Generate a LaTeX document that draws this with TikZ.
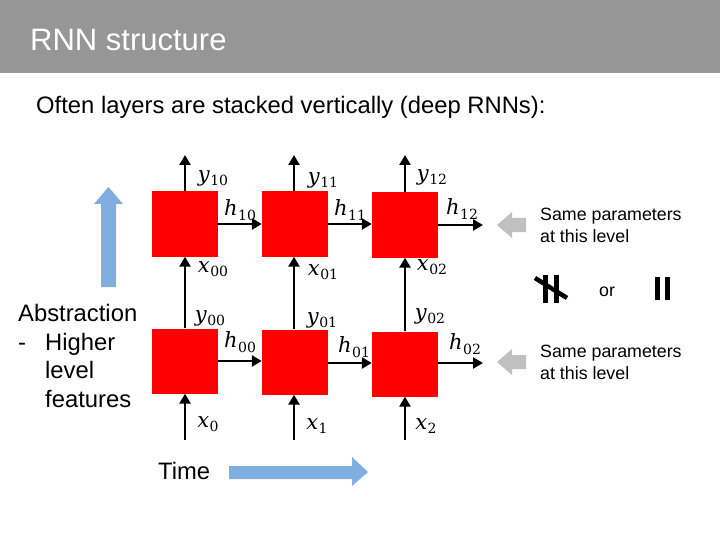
\documentclass[tikz,border=0pt]{standalone}
\usepackage{fontspec}
\setmainfont{Liberation Sans}
\newfontfamily\lblfont{DejaVu Serif}
\usetikzlibrary{arrows.meta}
\definecolor{hdr}{RGB}{150,150,150}
\definecolor{cellred}{RGB}{255,0,0}
\definecolor{bluearr}{RGB}{128,174,224}
\definecolor{grayarr}{RGB}{192,192,192}
\newcommand{\mlab}[2]{{\lblfont\fontsize{21}{22}\selectfont\itshape #1}\kern0.5pt\raisebox{-4.5pt}{\lblfont\fontsize{14}{15}\selectfont #2}}
\begin{document}
\begin{tikzpicture}[x=1pt,y=-1pt,
  cell/.style={fill=cellred,draw=none,minimum width=66pt,minimum height=65pt,inner sep=0pt},
  conn/.style={line width=2.6pt,-{Triangle[length=10pt,width=11pt]}},
  lbl/.style={inner sep=0pt},
  txt/.style={inner sep=0pt,anchor=base west}]
\useasboundingbox (0,0) rectangle (720,540);
% header
\fill[hdr] (0,0) rectangle (720,73);
\node[txt,text=white,font=\fontsize{31}{36}\selectfont] (title) at (30,51) {RNN structure};
\node[txt,font=\fontsize{23.8}{28}\selectfont] (sub) at (36,114) {Often layers are stacked vertically (deep RNNs):};
% cells
\node[cell] (b10) at (185,224) {};
\node[cell] (b11) at (295,224) {};
\node[cell] (b12) at (405,225) {};
\node[cell] (b00) at (185,361) {};
\node[cell] (b01) at (295,362) {};
\node[cell] (b02) at (405,364) {};
% free ends
\coordinate (t0) at (185,155);
\coordinate (t1) at (294,155);
\coordinate (t2) at (405,155);
\coordinate (i0) at (185,440);
\coordinate (i1) at (294,440);
\coordinate (i2) at (405,440);
\coordinate (e1) at (483,225);
\coordinate (e0) at (483,363);
% vertical connectors
\draw[conn] (b10.north) -- (t0);
\draw[conn] (b11.north -| t1) -- (t1);
\draw[conn] (b12.north) -- (t2);
\draw[conn] (b00.north) -- (b10.south);
\draw[conn] (b01.north -| t1) -- (b11.south -| t1);
\draw[conn] (b02.north) -- (b12.south);
\draw[conn] (i0) -- (b00.south);
\draw[conn] (i1) -- (b01.south -| i1);
\draw[conn] (i2) -- (b02.south);
% horizontal connectors
\draw[conn] (b10.east) -- (b11.west);
\draw[conn] (b11.east) -- (b12.west |- b11.east);
\draw[conn] (b12.east |- e1) -- (e1);
\draw[conn] (b00.east |- 0,361) -- (b01.west |- 0,361);
\draw[conn] (b01.east |- 0,363) -- (b02.west |- 0,363);
\draw[conn] (b02.east |- e0) -- (e0);
% labels
\node[lbl] (ly10) at (213,178) {\mlab{y}{10}};
\node[lbl] (ly11) at (323,180) {\mlab{y}{11}};
\node[lbl] (ly12) at (432,177) {\mlab{y}{12}};
\node[lbl] (lh10) at (240,210) {\mlab{h}{10}};
\node[lbl] (lh11) at (350,210) {\mlab{h}{11}};
\node[lbl] (lh12) at (462,209) {\mlab{h}{12}};
\node[lbl] (lx00) at (213,269) {\mlab{x}{00}};
\node[lbl] (lx01) at (323,272) {\mlab{x}{01}};
\node[lbl] (lx02) at (432,267) {\mlab{x}{02}};
\node[lbl] (ly00) at (210,318) {\mlab{y}{00}};
\node[lbl] (ly01) at (322,320) {\mlab{y}{01}};
\node[lbl] (ly02) at (430,316) {\mlab{y}{02}};
\node[lbl] (lh00) at (240,342) {\mlab{h}{00}};
\node[lbl] (lh01) at (354,347) {\mlab{h}{01}};
\node[lbl] (lh02) at (465,344) {\mlab{h}{02}};
\node[lbl] (lx0) at (208,424) {\mlab{x}{0}};
\node[lbl] (lx1) at (317,426) {\mlab{x}{1}};
\node[lbl] (lx2) at (426,426) {\mlab{x}{2}};
% gray arrows
\fill[grayarr] (497,225) -- (512,212) -- (512,218) -- (526,218) -- (526,232) -- (512,232) -- (512,238) -- cycle;
\fill[grayarr] (497,362) -- (512,349) -- (512,355) -- (526,355) -- (526,369) -- (512,369) -- (512,375) -- cycle;
\node[txt,align=left,font=\fontsize{17.8}{22}\selectfont] (sp1) at (540,243) {Same parameters\\at this level};
\node[txt,align=left,font=\fontsize{17.8}{22}\selectfont] (sp0) at (540,379) {Same parameters\\at this level};
% not-equal and equal symbols
\fill (543,275) rectangle (548,303);
\fill (554,275) rectangle (559,303);
\draw[line width=4.5pt] (535,278) -- (567,298);
\node[txt,font=\fontsize{17.8}{22}\selectfont] (or) at (599,296) {or};
\fill (655,277) rectangle (660,300);
\fill (665,277) rectangle (670,300);
% abstraction arrow
\fill[bluearr] (108.5,187) -- (123,204) -- (116,204) -- (116,287) -- (101,287) -- (101,204) -- (94,204) -- cycle;
\node[txt,align=left,font=\fontsize{23.8}{28.5}\selectfont] (abs) at (18,407) {Abstraction\\\makebox[27pt][l]{-}Higher\\\hspace*{27pt}level\\\hspace*{27pt}features};
% time arrow
\fill[bluearr] (229,466) -- (352,466) -- (352,457) -- (368,472) -- (352,486) -- (352,479) -- (229,479) -- cycle;
\node[txt,font=\fontsize{23.8}{28}\selectfont] (time) at (158,479) {Time};
\end{tikzpicture}
\end{document}
